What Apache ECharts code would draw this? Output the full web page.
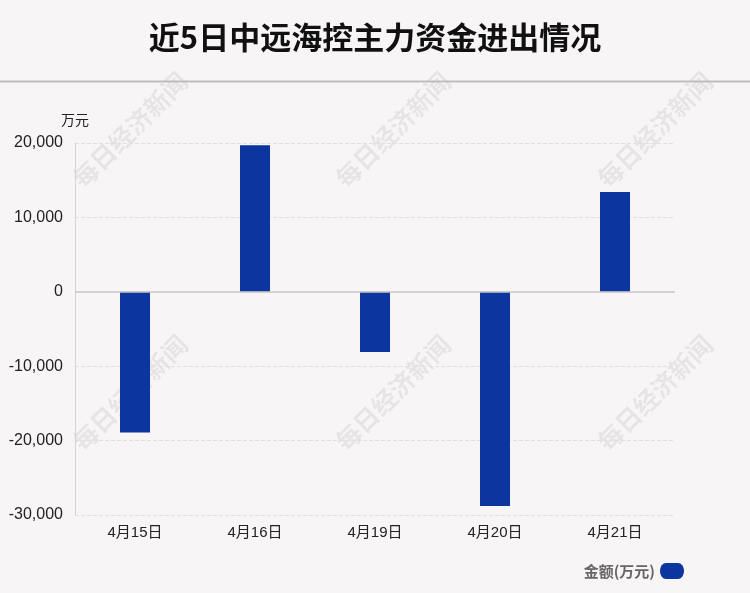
<!DOCTYPE html>
<html><head><meta charset="utf-8">
<script src="https://cdn.jsdelivr.net/npm/echarts@6/dist/echarts.min.js"></script>
<style>html,body{margin:0;padding:0;background:#f8f5f6;}#c{width:750px;height:593px;}</style>
</head><body><div id="c"></div>
<script>
const categories = ['4月15日','4月16日','4月19日','4月20日','4月21日'];
const values = [-18900, 19700, -8100, -28800, 13400];
const seriesName = '金额(万元)';
const titleText = '近5日中远海控主力资金进出情况';
const watermark = '每日经济新闻';

const chart = echarts.init(document.getElementById('c'));
const wmPos = [[130,130],[393,130],[655,130],[130,393],[393,393],[655,393]];
const graphics = wmPos.map(p => ({
  type:'text', x:p[0], y:p[1], rotation:Math.PI/4, z:-1, silent:true,
  style:{text:watermark, fill:'rgba(0,0,0,0.065)', font:'bold 25px "Noto Sans CJK SC"', align:'center', verticalAlign:'middle'}
}));
graphics.push({type:'line', shape:{x1:0,y1:81.5,x2:750,y2:81.5}, style:{stroke:'#bdbdbd', lineWidth:2}});
chart.setOption({
  backgroundColor:'#f8f5f6',
  title:{text:titleText, left:'center', top:17, textStyle:{fontSize:31, fontWeight:'bold', color:'#111', fontFamily:'"Noto Sans CJK SC"'}},
  graphic:graphics,
  legend:{right:61, bottom:9, itemWidth:24, itemHeight:16, icon:'path://M6,0 H18 A6,8 0 0 1 18,16 H6 A6,8 0 0 1 6,0 Z', align:'right',
    textStyle:{fontSize:15, color:'#666', fontWeight:'bold', fontFamily:'"Noto Sans CJK SC"'}, itemGap:5},
  grid:{left:75, right:75, top:143, bottom:78, containLabel:false},
  xAxis:{type:'category', data:categories,
    axisLine:{show:false}, axisTick:{show:false},
    axisLabel:{fontSize:15, color:'#222', margin:10, fontFamily:'"Liberation Sans","Noto Sans CJK SC"'}},
  yAxis:{type:'value', min:-30000, max:20000, interval:10000, name:'万元',
    nameLocation:'end', nameGap:16, nameTextStyle:{fontSize:14, color:'#222', align:'center', padding:[0,0,0,0], fontFamily:'"Noto Sans CJK SC"'},
    axisLine:{show:true, lineStyle:{color:'#d4d4d4'}}, axisTick:{show:false},
    axisLabel:{fontSize:16, color:'#222', margin:12, fontFamily:'"Liberation Sans"',
      formatter:v=>v.toLocaleString('en-US')},
    splitLine:{lineStyle:{type:'dashed', color:'#e2e0e0'}}},
  series:[{name:seriesName, type:'bar', data:values, barWidth:30,
    itemStyle:{color:'#0d35a0'}, 
    markLine:{silent:true, symbol:'none', label:{show:false}, lineStyle:{color:'#c8c8c8', type:'solid', width:1.5}, data:[{yAxis:0}]}}]
});
</script></body></html>
